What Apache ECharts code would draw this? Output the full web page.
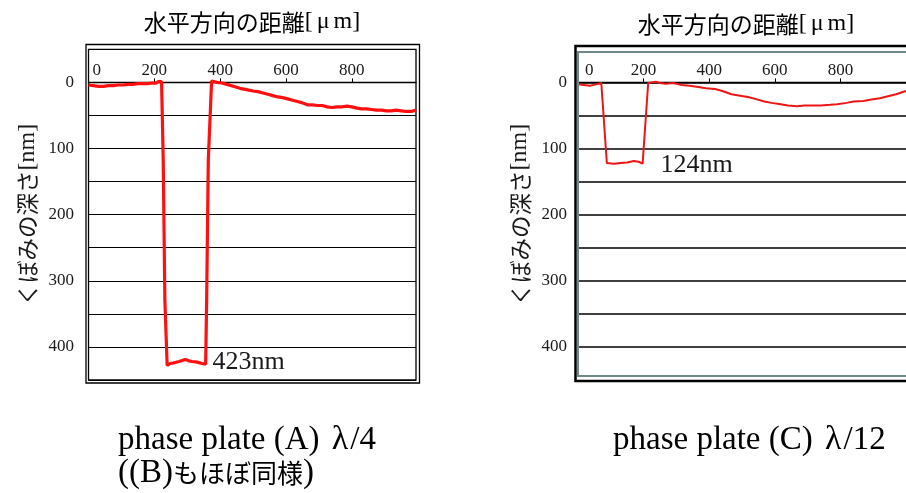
<!DOCTYPE html>
<html><head><meta charset="utf-8">
<script src="https://cdn.jsdelivr.net/npm/echarts@6/dist/echarts.min.js"></script>
<style>html,body{margin:0;padding:0;background:#fff}#c{width:906px;height:493px}</style>
</head><body><div id="c"></div>
<script>
// ---- data ----
const xTickLabels = [0, 200, 400, 600, 800];
const yTickLabels = [0, 100, 200, 300, 400];
const xTitle = '水平方向の距離';
const yTitle = 'くぼみの深さ';

// profile of phase plate (A): [horizontal distance um, depth nm]
const profileA = [
  [0,4],[15,5],[30,6],[45,6],[60,5],[75,5],[90,4],[105,4],[120,3],[135,3],[150,2],[165,2],[180,2],[195,1],[205,1],[212,-1],[218,-2],[222,-1],
  [227,117],[232,329],[239,428],[248,425],[260,424],[275,422],[294,419],[305,421],[315,422],[330,423],[345,425],[356,426],
  [359,329],[364,117],[374,-2],
  [390,0],[405,1],[420,3],[440,6],[460,9],[480,11],[500,13],[515,14],[530,16],[545,18],[560,20],[575,22],[590,23],[605,25],[620,27],[635,29],[650,31],[665,34],[680,34],[695,35],[710,35],[725,37],[740,38],[755,37],[770,37],[785,36],[800,37],[815,39],[830,40],[845,40],[860,41],[875,42],[890,42],[905,43],[920,43],[935,42],[950,43],[965,44],[980,44],[995,42]
];
// profile of phase plate (C)
const profileC = [
  [0,3],[18,4],[36,5],[55,3],[71,1],[74,1],[88,122],[92,125],[110,123],[130,122],[150,121],[170,119],[185,120],[197,123],[214,1],
  [225,0],[237,-1],[250,1],[267,2],[290,1],[317,4],[340,5],[367,7],[390,9],[418,10],[440,13],[468,18],[490,20],[518,22],[540,25],[568,29],[590,31],[618,33],[640,35],[669,36],[690,35],[719,35],[740,35],[769,34],[790,33],[819,31],[840,29],[870,28],[895,26],[920,24],[945,21],[970,18],[988,15],[1000,13]
];
const depthA = 423, depthC = 124;
const annotA = [375, 423];
const annotC = [250, 125];
const captionA1 = 'phase plate (A) ', captionA2 = '/4';
const captionA3a = '((B)', captionA3b = 'もほぼ同様', captionA3c = ')';
const captionC1 = 'phase plate (C) ', captionC2 = '/12';

// ---- chart ----
const SERIF = 'Liberation Serif, Noto Sans CJK JP';
const JP = 'Noto Sans CJK JP';
const TXT = '#1a1a1a';
const Y_MIN = -50, Y_MAX = 450;
const GRID_TOP = 49.3, GRID_H = 330.7;
const chart = echarts.init(document.getElementById('c'), null, {renderer: 'canvas'});

// place the x axis on the depth-0 line
const zeroOffset = -((0 - Y_MIN) / (Y_MAX - Y_MIN)) * GRID_H;

function xAxisCfg(gi, max, padLeft) {
  return {
    type: 'value', gridIndex: gi, min: 0, max: max, interval: 200, position: 'top', offset: zeroOffset,
    axisLine: {show: true, onZero: false, lineStyle: {color: '#000', width: 1.3}},
    axisTick: {show: true, inside: false, length: 4, lineStyle: {color: '#000', width: 1}},
    axisLabel: {
      show: true, margin: 3, fontSize: 17, fontFamily: SERIF, color: TXT,
      alignMinLabel: 'left', showMaxLabel: false,
      formatter: v => xTickLabels.includes(v) ? (v === 0 ? '{z|0}' : String(v)) : '',
      rich: {z: {fontSize: 17, fontFamily: SERIF, color: TXT, padding: [0, 0, 0, padLeft]}}
    },
    splitLine: {show: false}
  };
}
function yAxisCfg(gi, margin, gap, lw) {
  return {
    type: 'value', gridIndex: gi, min: Y_MIN, max: Y_MAX, interval: 50, inverse: true,
    axisLine: {show: false}, axisTick: {show: false},
    axisLabel: {
      margin: margin, fontSize: 17, fontFamily: SERIF, color: TXT,
      formatter: v => yTickLabels.includes(v) ? String(v) : ''
    },
    splitLine: {show: true, showMinLine: gi === 0, showMaxLine: gi === 0, lineStyle: {color: '#000', width: lw}},
    name: '{j|' + yTitle + '}{l|[nm]}', nameLocation: 'middle', nameRotate: 90, nameGap: gap,
    nameTextStyle: {color: TXT, rich: {
      j: {fontFamily: JP, fontSize: 22.5, color: TXT},
      l: {fontFamily: SERIF, fontSize: 24, color: TXT}
    }}
  };
}
function annot(coord, text) {
  return {
    symbol: 'circle', symbolSize: 1, silent: true,
    itemStyle: {color: 'rgba(0,0,0,0)'},
    label: {show: true, position: 'right', distance: 0, fontSize: 26, fontFamily: SERIF, color: TXT, formatter: text},
    data: [{coord: coord}]
  };
}

const titleRich = {
  j: {fontFamily: JP, fontSize: 23, color: TXT},
  l: {fontFamily: SERIF, fontSize: 24, color: TXT},
  m: {fontFamily: SERIF, fontSize: 24, color: TXT, padding: [0, 4, 0, 4]}
};
const capRich = {
  l: {fontFamily: SERIF, fontSize: 33, color: TXT},
  g: {fontFamily: SERIF, fontSize: 34, color: TXT, padding: [0, 2, 0, 4]},
  j: {fontFamily: JP, fontSize: 26, color: TXT}
};
const titleText = '{j|' + xTitle + '}{l|[}{m|μ}{l|m]}';

chart.setOption({
  animation: false,
  backgroundColor: '#fff',
  grid: [
    {left: 88.5, top: GRID_TOP, width: 327.5, height: GRID_H, show: true, borderColor: '#000', borderWidth: 1.3, backgroundColor: 'transparent'},
    {left: 578, top: GRID_TOP, width: 331.7, height: GRID_H, show: false}
  ],
  xAxis: [xAxisCfg(0, 995, 4), xAxisCfg(1, 1000, 7)],
  yAxis: [yAxisCfg(0, 14.5, 49, 1.2), yAxisCfg(1, 11, 46, 1.6)],
  series: [
    {type: 'line', xAxisIndex: 0, yAxisIndex: 0, data: profileA, showSymbol: false, symbol: 'none',
     lineStyle: {color: '#ff1010', width: 3.2}, z: 5, markPoint: annot(annotA, depthA + 'nm')},
    {type: 'line', xAxisIndex: 1, yAxisIndex: 1, data: profileC, showSymbol: false, symbol: 'none',
     lineStyle: {color: '#ee1515', width: 2}, z: 5, markPoint: annot(annotC, depthC + 'nm')}
  ],
  graphic: [
    {type: 'rect', shape: {x: 86, y: 44.5, width: 333.5, height: 338.5}, style: {fill: 'none', stroke: '#000', lineWidth: 1.3}, z: 10},
    {type: 'rect', shape: {x: 575.5, y: 46, width: 360, height: 335}, style: {fill: 'none', stroke: '#000', lineWidth: 2.5}, z: 10},
    {type: 'rect', shape: {x: 578, y: 52, width: 360, height: 324}, style: {fill: 'none', stroke: '#6f8888', lineWidth: 2}, z: 10},
    {type: 'text', x: 252, y: 22, style: {text: titleText, align: 'center', verticalAlign: 'middle', rich: titleRich}, z: 10},
    {type: 'text', x: 746, y: 24, style: {text: titleText, align: 'center', verticalAlign: 'middle', rich: titleRich}, z: 10},
    {type: 'text', x: 118, y: 440, style: {text: '{l|' + captionA1 + '}{g|λ}{l|' + captionA2 + '}', align: 'left', verticalAlign: 'middle', rich: capRich}, z: 10},
    {type: 'text', x: 118, y: 473, style: {text: '{l|' + captionA3a + '}{j|' + captionA3b + '}{l|' + captionA3c + '}', align: 'left', verticalAlign: 'middle', rich: capRich}, z: 10},
    {type: 'text', x: 613, y: 440, style: {text: '{l|' + captionC1 + '}{g|λ}{l|' + captionC2 + '}', align: 'left', verticalAlign: 'middle', rich: capRich}, z: 10}
  ]
});
</script>
</body></html>
